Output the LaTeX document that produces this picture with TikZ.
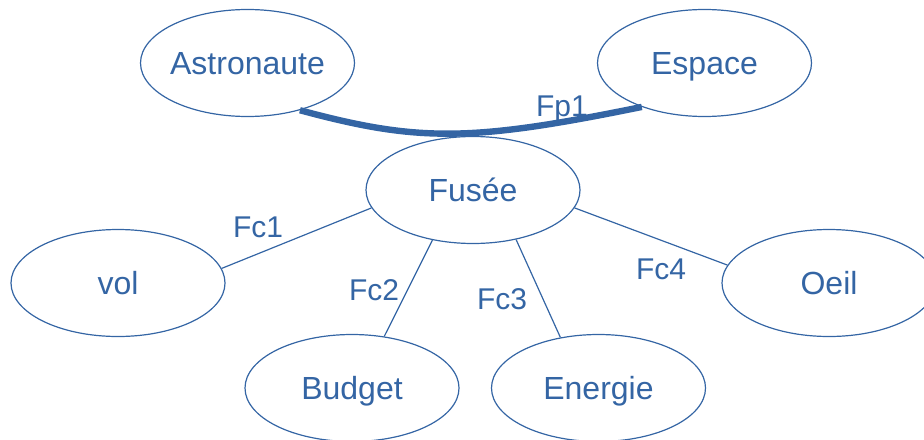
\documentclass[tikz,border=0pt]{standalone}
\usepackage{fontspec}
\setmainfont{Liberation Sans}
\usetikzlibrary{shapes.geometric}
\definecolor{bleu}{HTML}{3465A4}
\pgfdeclarelayer{nodelayer}
\pgfdeclarelayer{edgelayer}
\pgfsetlayers{edgelayer,nodelayer,main}
\tikzset{bulle/.style={shape=ellipse, draw=bleu, line width=0.6pt, text=bleu, inner sep=0pt,
inner xsep=-4pt, font=\fontsize{16}{19}\selectfont,
minimum width=107pt, minimum height=53.5pt, text height=11.5pt, text depth=0pt}}
\tikzset{lien/.style={draw=bleu, line width=0.6pt}}
\tikzset{epais/.style={draw=bleu, line width=3.2pt}}
\tikzstyle{etiq}=[inner sep=0pt, text=bleu, anchor=base]

\begin{document}
\begin{tikzpicture}[x=0.5pt, y=-0.5pt, font=\fontsize{15}{18}\selectfont]
        \useasboundingbox (0,0) rectangle (924,439);
        \begin{pgfonlayer}{nodelayer}
            \node [style=bulle] (0) at (247.5, 63) {Astronaute};
            \node [style=bulle] (1) at (704.5, 63) {Espace};
            \node [style=bulle] (2) at (473, 190) {Fusée};
            \node [style=bulle] (3) at (118, 283) {vol};
            \node [style=bulle] (4) at (352, 388) {Budget};
            \node [style=bulle] (5) at (598.5, 388) {Energie};
            \node [style=bulle] (6) at (829, 283) {Oeil};
            \node [style=etiq] (7) at (562, 116) {Fp1};
            \node [style=etiq] (8) at (258, 237) {Fc1};
            \node [style=etiq] (9) at (374, 300) {Fc2};
            \node [style=etiq] (10) at (502, 309) {Fc3};
            \node [style=etiq] (11) at (661, 279) {Fc4};
        \end{pgfonlayer}
        \begin{pgfonlayer}{edgelayer}
            \draw [style=epais] (0.318) .. controls (418, 142) and (470, 142) .. (1.215);
            \draw [style=lien] (2.190.7) to (3.8.7);
            \draw [style=lien] (2.231) to (4.58.7);
            \draw [style=lien] (2.311) to (5.127);
            \draw [style=lien] (2.350) to (6.170);
        \end{pgfonlayer}
    \end{tikzpicture}
\end{document}
